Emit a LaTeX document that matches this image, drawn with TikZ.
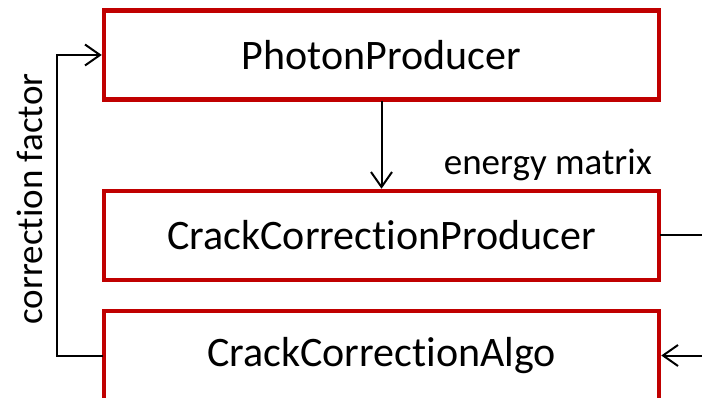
\documentclass[tikz,border=0pt]{standalone}
\usepackage{fontspec}
\setmainfont{Carlito}[Ligatures=NoCommon]
\usetikzlibrary{arrows.meta}
\definecolor{boxred}{HTML}{C00000}
\tikzset{
  stage/.style={draw=boxred, line width=4.5pt, minimum width=555pt, minimum height=89pt,
    inner sep=0pt, font=\fontsize{42}{50}\selectfont},
  link/.style={draw=black, line width=2pt, line cap=rect},
  tip/.style={-{Straight Barb[length=15pt,width=21pt,line width=2pt]}},
  caption/.style={font=\fontsize{37}{44}\selectfont, inner sep=0pt}
}
\begin{document}
\begin{tikzpicture}[x=1pt,y=-1pt]
  \useasboundingbox (0,0) rectangle (702,398);
  % the three processing stages
  \node[stage] (photon) at (381.5,55) {PhotonProducer};
  \node[stage] (crackprod) at (381.5,235.5) {CrackCorrectionProducer};
  \node[stage] (crackalgo) at (381.5,355.5) {CrackCorrectionAlgo};
  % free ends leaving the right margin
  \coordinate (outR) at (704,235.5);
  \coordinate (inR) at (704,355.5);
  \coordinate (loopB) at (57,355.5);
  \coordinate (loopT) at (57,55);
  % data flow
  \draw[link,tip] (photon.south) -- (crackprod.north);
  \draw[link] (crackprod.east) -- (outR);
  \draw[link,tip] (inR) -- (crackalgo.east);
  \draw[link,tip] (crackalgo.west) -- (loopB) -- (loopT) -- (photon.west);
  % labels
  \node[caption, anchor=base east] (energy) at (652,175) {energy matrix};
  \node[caption, rotate=90, anchor=base] (corr) at (42,199) {correction factor};
\end{tikzpicture}
\end{document}
